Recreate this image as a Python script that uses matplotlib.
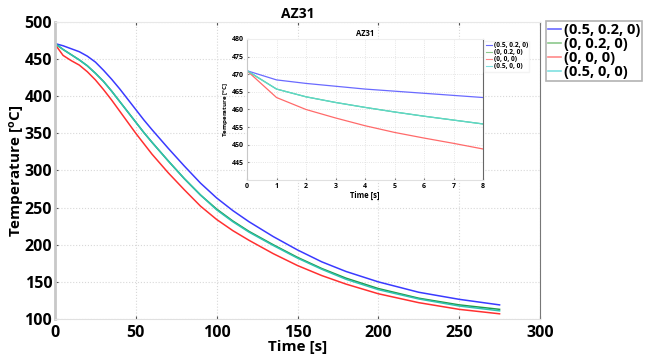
import matplotlib
matplotlib.use("Agg")
import matplotlib.pyplot as plt
from matplotlib.lines import Line2D

plt.rcParams["font.family"] = ["Open Sans", "DejaVu Sans"]
plt.rcParams["mathtext.fontset"] = "custom"
plt.rcParams["mathtext.bf"] = "Open Sans:bold"
plt.rcParams["mathtext.rm"] = "Open Sans"

# ---------------- data ----------------
time_main = [0, 5, 10, 15, 20, 25, 30, 35, 40, 45, 50, 55, 60, 70, 80, 90, 100,
             110, 120, 135, 150, 165, 180, 200, 225, 250, 275]
temp_05_02 = [471, 468, 464, 460, 454, 446, 435, 423, 410, 396, 382, 368, 355, 330, 306, 283, 263,
              246, 231, 211, 193, 177, 164, 150, 136, 126.5, 119]
temp_0_02 = [471, 463, 456, 449, 441, 431, 420, 407, 393, 379, 365, 351, 338, 313, 289, 267, 248,
             232, 218, 200, 183, 168, 155, 141, 128, 119, 113]
temp_0_0 = [470, 455, 448, 442, 433, 422, 409, 395, 380, 365, 350, 336, 322, 297, 274, 252, 234,
            219, 206, 188, 172, 158.5, 147, 134, 122, 113, 107]
temp_05_0 = [471, 463, 456, 449, 441, 431, 420, 407, 393, 379, 365, 351, 338, 313, 289, 267, 247,
             231, 217, 199, 182, 167, 153.5, 139.5, 127, 117.5, 111]

time_inset = [0, 1, 2, 3, 4, 5, 6, 7, 8]
inset_05_02 = [471, 468.4, 467.4, 466.6, 465.8, 465.2, 464.6, 464.0, 463.4]
inset_0_02 = [471, 465.8, 463.6, 462.0, 460.6, 459.3, 458.1, 457.0, 455.9]
inset_0_0 = [471, 463.4, 460.0, 457.6, 455.4, 453.5, 451.9, 450.4, 448.8]
inset_05_0 = [471, 465.8, 463.6, 462.0, 460.6, 459.3, 458.1, 457.0, 455.9]

labels = ["(0.5, 0.2, 0)", "(0, 0.2, 0)", "(0, 0, 0)", "(0.5, 0, 0)"]
main_colors = ["#3a3aff", "#1f9a4a", "#ff3030", "#30c2b0"]
leg_colors = ["#6a6aff", "#8cc88c", "#ff8a8a", "#7fe0e0"]
inset_colors = ["#6a6aff", "#4cc48c", "#ff6a6a", "#5fd8c8"]

xticks_main = [0, 50, 100, 150, 200, 250, 300]
yticks_main = [100, 150, 200, 250, 300, 350, 400, 450, 500]
xticks_inset = [0, 1, 2, 3, 4, 5, 6, 7, 8]
yticks_inset = [445, 450, 455, 460, 465, 470, 475, 480]

# ---------------- figure ----------------
fig = plt.figure(figsize=(6.56, 3.55), dpi=100)
ax = fig.add_axes([55 / 656, 1 - 319 / 355, 485 / 656, 297 / 355])

series = [temp_05_02, temp_0_02, temp_0_0, temp_05_0]
for i in [0, 2, 1, 3]:
    ax.plot(time_main, series[i], color=main_colors[i], lw=1.1)

ax.set_xlim(0, 300)
ax.set_ylim(100, 500)
ax.set_xticks(xticks_main)
ax.set_yticks(yticks_main)
ax.grid(True, linestyle=":", color="#d8d8d8", lw=0.8)
for lab in ax.get_xticklabels() + ax.get_yticklabels():
    lab.set_fontweight("bold")
ax.tick_params(labelsize=11.5, length=2, direction="in", color="#555555", top=True)
ax.tick_params(axis="x", pad=4)
ax.tick_params(axis="y", pad=2)
ax.spines["left"].set_color("#c8c8c8")
ax.spines["left"].set_linewidth(2)
ax.spines["bottom"].set_color("#e0e0e0")
ax.spines["top"].set_color("#e8e8e8")
ax.spines["right"].set_color("#777777")
ax.set_xlabel("Time [s]", fontsize=11, fontweight="bold")
ax.xaxis.set_label_coords(0.50, -0.095)
ax.xaxis.label.set_va("center")
ax.set_ylabel("Temperature [$\\mathbf{^{o}C}$]", fontsize=11, fontweight="bold")
ax.yaxis.set_label_coords(-0.058, 0.5)
ax.set_title("AZ31", fontsize=10, fontweight="bold", pad=3)

# main legend (outside right)
leg_handles = [Line2D([0], [0], color=leg_colors[i], lw=1.2) for i in range(4)]
leg = fig.legend(leg_handles, labels, loc="upper left",
                 bbox_to_anchor=(546 / 656, 1 - 21 / 355),
                 prop={"size": 10.5, "weight": "bold"}, handlelength=0.9,
                 handletextpad=0.15, borderpad=0.15, labelspacing=0.0,
                 frameon=True, fancybox=False, borderaxespad=0)
leg.get_frame().set_edgecolor("#a0a0a0")
leg.get_frame().set_linewidth(1.2)

# ---------------- inset ----------------
axi = fig.add_axes([247 / 656, 1 - 180 / 355, 236 / 656, 141 / 355])
iseries = [inset_05_02, inset_0_02, inset_0_0, inset_05_0]
for i in range(4):
    axi.plot(time_inset, iseries[i], color=inset_colors[i], lw=0.9)
axi.set_xlim(0, 8)
axi.set_ylim(440, 480)
axi.set_xticks(xticks_inset)
axi.set_yticks(yticks_inset)
axi.grid(True, linestyle=":", color="#dddddd", lw=0.6)
for lab in axi.get_xticklabels() + axi.get_yticklabels():
    lab.set_fontweight("bold")
axi.tick_params(labelsize=5, length=1.5, direction="in", pad=2, color="#777777")
axi.spines["left"].set_color("#c8c8c8")
axi.spines["bottom"].set_color("#e0e0e0")
axi.spines["top"].set_color("#eeeeee")
axi.spines["right"].set_color("#666666")
axi.set_xlabel("Time [s]", fontsize=5.5, fontweight="bold", labelpad=1)
axi.set_ylabel("Temperature [$\\mathbf{^{o}C}$]", fontsize=4.5, fontweight="bold", labelpad=1)
axi.set_title("AZ31", fontsize=5.5, fontweight="bold", pad=2)
ileg = axi.legend([Line2D([0], [0], color=leg_colors[i], lw=0.8) for i in range(4)], labels,
                  loc="upper left", bbox_to_anchor=(1.005, 0.985),
                  prop={"size": 4.8, "weight": "bold"}, handlelength=1.0,
                  handletextpad=0.2, borderpad=0.2, labelspacing=0.0,
                  frameon=True, fancybox=False, borderaxespad=0)
ileg.get_frame().set_edgecolor("#f0f0f0")

fig.savefig("out.png", dpi=100)
